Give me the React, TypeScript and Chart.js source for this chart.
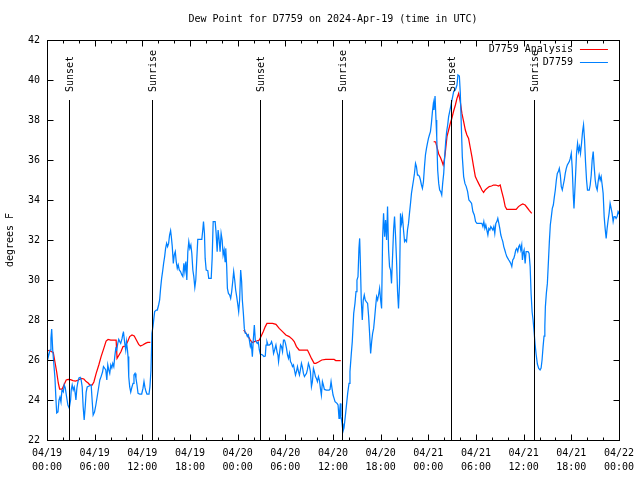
import React, { useEffect, useRef } from 'react';
import { Chart, registerables } from 'chart.js';

Chart.register(...registerables);

const FONT = '"DejaVu Sans Mono", "Liberation Mono", monospace';

const chartTitle = 'Dew Point for D7759 on 2024-Apr-19 (time in UTC)';
const yTitle = 'degrees F';
const analysisLabel = 'D7759 Analysis';
const obsLabel = 'D7759';

// x tick labels every 6 h (hours since 04/19 00:00 UTC)
const xTickDates = ['04/19', '04/19', '04/19', '04/19', '04/20', '04/20', '04/20', '04/20', '04/21', '04/21', '04/21', '04/21', '04/22'];
const xTickTimes = ['00:00', '06:00', '12:00', '18:00', '00:00', '06:00', '12:00', '18:00', '00:00', '06:00', '12:00', '18:00', '00:00'];

// sunrise / sunset markers (hours since 04/19 00:00 UTC)
const eventHours = [2.8, 13.21, 26.85, 37.18, 50.85, 61.3];
const eventLabels = ['Sunset', 'Sunrise', 'Sunset', 'Sunrise', 'Sunset', 'Sunrise'];

// observed dew point (hours, degF)
const dewHours = [
  0.00, 0.13, 0.38, 0.50, 0.59, 0.72, 0.88, 1.00, 1.13, 1.22,
  1.38, 1.51, 1.63, 1.76, 1.88, 2.05, 2.17, 2.30, 2.47, 2.63,
  2.80, 2.97, 3.05, 3.17, 3.30, 3.43, 3.55, 3.64, 3.76, 3.89,
  4.02, 4.18, 4.30, 4.43, 4.55, 4.68, 4.81, 4.93, 5.06, 5.31,
  5.56, 5.68, 5.81, 5.98, 6.15, 6.31, 6.49, 6.65, 6.81, 6.99,
  7.11, 7.24, 7.40, 7.53, 7.65, 7.78, 7.90, 8.03, 8.16, 8.28,
  8.41, 8.53, 8.66, 8.78, 8.91, 9.03, 9.16, 9.28, 9.45, 9.57,
  9.62, 9.79, 9.91, 10.00, 10.13, 10.20, 10.29, 10.41, 10.54, 10.66,
  10.83, 10.95, 11.08, 11.20, 11.33, 11.46, 11.67, 11.92, 12.08, 12.21,
  12.33, 12.46, 12.58, 12.84, 12.96, 13.09, 13.21, 13.34, 13.55, 13.76,
  13.89, 14.05, 14.18, 14.30, 14.43, 14.55, 14.68, 14.81, 14.93, 15.06,
  15.18, 15.31, 15.43, 15.56, 15.65, 15.77, 15.90, 16.02, 16.15, 16.27,
  16.40, 16.52, 16.65, 16.81, 16.98, 17.10, 17.23, 17.35, 17.48, 17.60,
  17.73, 17.85, 17.98, 18.11, 18.23, 18.36, 18.48, 18.61, 18.73, 18.86,
  18.98, 19.49, 19.61, 19.70, 19.82, 19.91, 20.04, 20.24, 20.36, 20.67,
  20.79, 20.92, 21.17, 21.29, 21.42, 21.54, 21.67, 21.79, 21.92, 22.05,
  22.17, 22.30, 22.42, 22.50, 22.62, 22.71, 22.84, 23.00, 23.12, 23.25,
  23.38, 23.50, 23.63, 23.75, 23.88, 24.00, 24.13, 24.25, 24.38, 24.50,
  24.59, 24.72, 24.84, 24.97, 25.09, 25.22, 25.35, 25.47, 25.60, 25.72,
  25.85, 25.97, 26.10, 26.22, 26.35, 26.47, 26.60, 26.73, 26.85, 27.14,
  27.31, 27.48, 27.57, 27.69, 27.82, 27.98, 28.14, 28.27, 28.39, 28.52,
  28.65, 28.82, 28.95, 29.07, 29.15, 29.27, 29.40, 29.52, 29.65, 29.77,
  29.90, 30.02, 30.15, 30.28, 30.40, 30.53, 30.65, 30.78, 30.90, 31.03,
  31.15, 31.28, 31.40, 31.53, 31.66, 31.78, 31.91, 32.03, 32.16, 32.28,
  32.41, 32.53, 32.66, 32.79, 32.91, 33.04, 33.16, 33.29, 33.41, 33.54,
  33.66, 33.79, 33.91, 34.04, 34.17, 34.29, 34.42, 34.54, 34.67, 34.79,
  34.92, 35.17, 35.51, 35.63, 35.76, 35.88, 36.01, 36.14, 36.26, 36.51,
  36.64, 36.76, 36.85, 36.93, 37.01, 37.14, 37.26, 37.39, 37.55, 37.68,
  37.85, 38.02, 38.14, 38.31, 38.43, 38.61, 38.77, 38.90, 39.02, 39.15,
  39.27, 39.36, 39.44, 39.56, 39.69, 39.81, 39.94, 40.06, 40.19, 40.36,
  40.49, 40.61, 40.74, 40.87, 40.99, 41.12, 41.24, 41.37, 41.49, 41.62,
  41.74, 41.87, 42.00, 42.12, 42.25, 42.37, 42.50, 42.62, 42.75, 42.87,
  43.00, 43.12, 43.25, 43.37, 43.50, 43.63, 43.75, 43.88, 44.00, 44.13,
  44.25, 44.38, 44.50, 44.63, 44.75, 44.88, 45.01, 45.13, 45.26, 45.38,
  45.51, 45.63, 45.76, 45.88, 46.01, 46.14, 46.26, 46.39, 46.51, 46.64,
  46.76, 46.89, 47.01, 47.14, 47.26, 47.39, 47.52, 47.64, 47.77, 47.89,
  48.02, 48.14, 48.27, 48.39, 48.52, 48.64, 48.72, 48.85, 48.97, 49.06,
  49.18, 49.31, 49.43, 49.56, 49.69, 49.81, 49.94, 50.06, 50.19, 50.31,
  50.44, 50.56, 50.69, 50.82, 50.94, 51.07, 51.19, 51.41, 51.61, 51.73,
  51.91, 52.03, 52.16, 52.28, 52.45, 52.61, 52.78, 52.95, 53.11, 53.29,
  53.45, 53.61, 53.79, 53.95, 54.12, 54.33, 54.54, 54.74, 54.87, 54.99,
  55.12, 55.24, 55.37, 55.50, 55.62, 55.75, 55.87, 56.00, 56.12, 56.25,
  56.37, 56.50, 56.63, 56.75, 56.88, 57.00, 57.13, 57.25, 57.38, 57.50,
  57.63, 57.75, 57.88, 58.01, 58.13, 58.26, 58.38, 58.51, 58.63, 58.76,
  58.88, 59.01, 59.13, 59.26, 59.39, 59.51, 59.64, 59.76, 59.85, 59.94,
  60.06, 60.19, 60.31, 60.56, 60.69, 60.82, 60.94, 61.07, 61.19, 61.32,
  61.44, 61.57, 61.73, 61.90, 62.07, 62.20, 62.32, 62.45, 62.57, 62.67,
  62.74, 62.86, 62.99, 63.11, 63.24, 63.36, 63.49, 63.61, 63.74, 63.86,
  63.99, 64.12, 64.24, 64.37, 64.49, 64.62, 64.74, 64.87, 64.99, 65.12,
  65.24, 65.37, 65.50, 65.62, 65.75, 65.87, 66.00, 66.12, 66.25, 66.34,
  66.41, 66.54, 66.66, 66.79, 66.91, 67.04, 67.16, 67.29, 67.42, 67.54,
  67.67, 67.79, 67.92, 68.04, 68.26, 68.38, 68.51, 68.63, 68.76, 68.88,
  69.01, 69.13, 69.26, 69.38, 69.51, 69.64, 69.76, 69.89, 70.01, 70.14,
  70.26, 70.39, 70.51, 70.64, 70.76, 70.89, 71.02, 71.14, 71.27, 71.39,
  71.52, 71.64, 71.77, 71.89, 72.00,
];
const dewValues = [
  26.67, 26.1, 26.5, 27.1, 27.55, 26.5, 25.7, 25.1, 24.0, 23.35,
  23.4, 24.0, 24.15, 23.9, 24.5, 24.4, 24.75, 24.6, 24.15, 23.75,
  23.6, 24.0, 24.5, 24.75, 24.5, 24.65, 24.33, 24.0, 24.6, 24.9,
  25.1, 25.13, 25.0, 24.65, 23.67, 23.0, 23.67, 24.4, 24.65, 24.7,
  24.75, 24.0, 23.25, 23.4, 23.75, 24.15, 24.6, 25.0, 25.17, 25.4,
  25.67, 25.6, 25.5, 25.0, 25.75, 25.5, 25.33, 25.75, 25.6, 25.83,
  25.67, 26.17, 26.58, 26.5, 26.83, 27.03, 26.92, 26.83, 27.08, 27.33,
  27.42, 26.83, 26.5, 26.92, 26.5, 26.17, 25.17, 24.65, 24.4, 24.6,
  24.83, 25.25, 25.33, 25.08, 24.75, 24.33, 24.3, 24.3, 24.58, 24.92,
  24.63, 24.42, 24.3, 24.3, 24.67, 25.5, 27.33, 27.67, 28.42, 28.5,
  28.5, 28.75, 29.0, 29.58, 30.08, 30.42, 30.83, 31.17, 31.58, 31.83,
  31.67, 31.83, 32.25, 32.47, 32.17, 31.67, 30.83, 31.25, 31.42, 30.92,
  30.58, 30.75, 30.5, 30.42, 30.25, 30.17, 30.83, 30.42, 30.92, 30.0,
  31.42, 31.92, 31.58, 31.75, 31.33, 30.5, 30.17, 29.63, 30.0, 31.08,
  32.03, 32.03, 32.5, 32.92, 32.33, 31.08, 30.5, 30.47, 30.08, 30.08,
  31.08, 32.92, 32.92, 32.33, 31.42, 32.5, 32.0, 31.42, 32.33, 32.0,
  31.25, 31.5, 30.92, 31.58, 30.67, 29.58, 29.33, 29.25, 29.08, 29.42,
  29.92, 30.42, 30.0, 29.5, 29.17, 28.83, 28.42, 29.0, 30.5, 29.92,
  29.0, 28.33, 27.58, 27.33, 27.33, 27.17, 27.25, 27.0, 26.67, 26.83,
  26.17, 27.0, 27.75, 27.0, 26.9, 26.83, 26.9, 26.5, 26.3, 26.25,
  26.17, 26.2, 26.75, 26.92, 26.75, 26.75, 26.8, 26.92, 26.75, 26.33,
  26.5, 26.75, 26.42, 26.25, 25.92, 26.33, 26.75, 26.67, 26.42, 27.0,
  27.0, 26.83, 26.58, 26.25, 26.08, 26.33, 25.92, 25.83, 25.67, 25.75,
  25.5, 25.25, 25.42, 25.67, 25.42, 25.25, 25.53, 25.83, 25.63, 25.33,
  25.17, 25.25, 25.33, 25.53, 25.83, 25.67, 25.42, 24.67, 24.92, 25.58,
  25.42, 25.17, 25.08, 24.92, 25.17, 25.0, 24.58, 24.25, 24.92, 24.75,
  24.53, 24.5, 24.5, 24.53, 24.92, 24.58, 24.25, 24.08, 23.92, 23.83,
  23.75, 23.08, 23.5, 23.83, 23.17, 22.83, 22.42, 22.6, 23.17, 23.67,
  24.33, 24.83, 25.42, 26.33, 26.92, 28.33, 28.83, 29.42, 30.0, 30.17,
  31.58, 32.08, 31.0, 29.0, 28.0, 29.0, 29.25, 29.0, 28.92, 28.83,
  28.17, 27.33, 26.33, 26.92, 27.33, 27.58, 28.08, 28.67, 29.17, 29.0,
  29.25, 29.58, 29.0, 28.58, 32.17, 33.33, 32.17, 33.0, 32.0, 33.67,
  31.5, 30.67, 30.5, 29.83, 31.17, 32.5, 33.17, 32.17, 31.0, 29.42,
  28.58, 29.83, 33.33, 32.83, 33.17, 32.5, 31.92, 32.0, 31.92, 32.5,
  32.83, 33.33, 33.83, 34.33, 34.67, 35.0, 35.33, 35.83, 35.67, 35.25,
  35.25, 35.17, 35.0, 34.75, 34.58, 34.92, 35.67, 36.25, 36.58, 36.83,
  37.08, 37.25, 37.42, 37.83, 38.42, 38.83, 38.5, 39.2, 38.0, 37.17,
  35.5, 34.83, 34.5, 34.42, 34.25, 34.83, 35.33, 36.17, 36.92, 37.42,
  37.75, 38.17, 38.42, 38.67, 38.92, 39.17, 39.42, 39.5, 39.75, 40.25,
  40.2, 39.33, 37.67, 36.17, 35.17, 34.83, 34.67, 34.42, 34.0, 33.92,
  33.83, 33.42, 33.25, 32.92, 32.83, 32.83, 32.83, 32.83, 32.67, 32.92,
  32.58, 32.75, 32.5, 32.25, 32.58, 32.5, 32.67, 32.58, 32.5, 32.67,
  32.33, 32.83, 32.92, 33.08, 32.83, 32.58, 32.25, 32.08, 31.92, 31.67,
  31.5, 31.33, 31.17, 31.08, 31.0, 30.92, 30.83, 30.67, 31.0, 31.08,
  31.25, 31.5, 31.58, 31.42, 31.67, 31.75, 31.5, 31.75, 31.0, 31.33,
  31.5, 30.83, 31.42, 31.42, 31.33, 30.67, 29.33, 28.4, 28.0, 27.4,
  26.8, 26.3, 25.8, 25.58, 25.5, 25.6, 26.0, 26.67, 27.2, 27.67,
  28.67, 29.33, 29.83, 30.83, 31.92, 32.75, 33.17, 33.58, 33.75, 34.13,
  34.5, 35.0, 35.33, 35.42, 35.58, 35.25, 34.67, 34.5, 34.75, 35.0,
  35.33, 35.58, 35.75, 35.83, 35.92, 36.08, 36.33, 35.58, 34.25, 33.58,
  34.17, 35.25, 36.33, 36.83, 36.42, 36.67, 36.33, 36.83, 37.42, 37.75,
  37.0, 35.92, 35.0, 34.5, 34.5, 34.75, 35.25, 36.0, 36.42, 35.67,
  35.0, 34.67, 34.5, 34.92, 35.25, 35.0, 35.17, 34.75, 34.33, 33.17,
  32.58, 32.08, 32.58, 33.0, 33.33, 33.83, 33.58, 33.33, 32.92, 33.17,
  33.17, 33.08, 33.17, 33.42, 33.33,
];

// analysis dew point (hours, degF); null = no analysis
const analysisHours = [
  0.00, 0.38, 0.79, 1.00, 1.22, 1.42, 1.59, 1.92, 2.13, 2.42,
  2.67, 2.97, 3.26, 3.60, 3.93, 4.35, 4.64, 4.93, 5.18, 5.40,
  5.68, 5.90, 6.19, 6.52, 6.81, 7.15, 7.44, 7.69, 8.03, 8.41,
  8.70, 8.82, 9.07, 9.32, 9.57, 9.87, 10.16, 10.41, 10.70, 10.98,
  11.25, 11.54, 11.76, 12.05, 12.38, 12.67, 13.01,
  19.0,
  24.76, 25.06, 25.35, 25.60, 25.81, 26.10, 26.39, 26.73, 26.94, 27.23,
  27.48, 27.69, 27.98, 28.39, 28.82, 29.23, 29.65, 30.07, 30.49, 30.90,
  31.12, 31.40, 31.74, 32.16, 32.79, 33.00, 33.29, 33.63, 33.84, 34.17,
  34.59, 35.09, 35.72, 36.14, 36.35, 36.98,
  43.0,
  48.68, 48.93, 49.12, 49.31, 49.56, 49.75, 49.87, 50.00, 50.12, 50.35,
  50.56, 50.78, 50.94, 51.19, 51.41, 51.61, 51.82, 52.03, 52.23, 52.45,
  52.66, 52.86, 53.07, 53.29, 53.49, 53.70, 53.92, 54.12, 54.33, 54.54,
  54.74, 54.96, 55.17, 55.37, 55.67, 55.96, 56.21, 56.50, 56.84, 57.05,
  57.25, 57.47, 57.68, 57.88, 58.34, 58.72, 59.06, 59.35, 59.64, 59.89,
  60.19, 60.48, 60.73, 61.02,
];
const analysisValues = [
  26.5, 26.45, 26.38, 25.9, 25.4, 24.85, 24.55, 24.55, 24.75, 25.0,
  25.03, 25.02, 24.97, 24.95, 25.0, 25.08, 25.05, 24.92, 24.85, 24.75,
  24.75, 24.9, 25.33, 25.75, 26.17, 26.58, 26.95, 27.03, 27.0, 27.0,
  27.0, 26.08, 26.25, 26.42, 26.67, 26.7, 26.92, 27.17, 27.25, 27.2,
  27.0, 26.78, 26.7, 26.75, 26.83, 26.88, 26.88,
  null,
  27.5, 27.33, 27.17, 27.0, 26.87, 26.92, 26.95, 27.0, 27.17, 27.42,
  27.67, 27.83, 27.83, 27.83, 27.78, 27.58, 27.42, 27.25, 27.17, 27.03,
  26.92, 26.67, 26.5, 26.5, 26.5, 26.33, 26.08, 25.83, 25.83, 25.9,
  26.0, 26.03, 26.03, 26.03, 25.97, 25.97,
  null,
  36.92, 36.9, 36.6, 36.3, 36.1, 35.9, 35.75, 35.95, 36.3, 37.17,
  37.5, 37.85, 38.05, 38.45, 38.75, 39.08, 39.33, 38.9, 38.33, 37.92,
  37.5, 37.25, 37.08, 36.6, 36.17, 35.67, 35.17, 35.0, 34.83, 34.67,
  34.5, 34.38, 34.5, 34.58, 34.67, 34.7, 34.75, 34.75, 34.7, 34.75,
  34.42, 34.08, 33.67, 33.53, 33.53, 33.53, 33.53, 33.67, 33.75, 33.8,
  33.75, 33.6, 33.47, 33.33,
];

const decorPlugin = {
  id: 'gnuplotDecor',
  afterDatasetsDraw(chart: any) {
    const { ctx, chartArea: a, scales } = chart;
    const xs = scales.x;
    const ys = scales.y;
    ctx.save();
    ctx.strokeStyle = '#000';
    ctx.fillStyle = '#000';
    ctx.lineWidth = 1;
    ctx.font = `10px ${FONT}`;

    // sunrise / sunset lines
    eventHours.forEach((h, i) => {
      const px = Math.round(xs.getPixelForValue(h)) + 0.5;
      ctx.beginPath();
      ctx.moveTo(px, a.top + 60);
      ctx.lineTo(px, a.bottom);
      ctx.stroke();
      ctx.save();
      ctx.translate(px + 1, a.top + 52);
      ctx.rotate(-Math.PI / 2);
      ctx.textAlign = 'left';
      ctx.textBaseline = 'middle';
      ctx.fillText(eventLabels[i], 0, 0);
      ctx.restore();
    });

    // frame
    const L = Math.round(a.left) + 0.5;
    const R = Math.round(a.right) + 0.5;
    const T = Math.round(a.top) + 0.5;
    const B = Math.round(a.bottom) + 0.5;
    ctx.strokeRect(L, T, R - L, B - T);

    // inward ticks
    ctx.beginPath();
    xs.ticks.forEach((t: any) => {
      const px = Math.round(xs.getPixelForValue(t.value)) + 0.5;
      const len = t.value % 6 === 0 ? 6 : 3;
      ctx.moveTo(px, B);
      ctx.lineTo(px, B - len);
      ctx.moveTo(px, T);
      ctx.lineTo(px, T + len);
    });
    ys.ticks.forEach((t: any) => {
      const py = Math.round(ys.getPixelForValue(t.value)) + 0.5;
      ctx.moveTo(L, py);
      ctx.lineTo(L + 6, py);
      ctx.moveTo(R, py);
      ctx.lineTo(R - 6, py);
    });
    ctx.stroke();

    // legend (top right, inside)
    chart.data.datasets.forEach((ds: any, i: number) => {
      const y = Math.round(a.top + 9 + i * 13) + 0.5;
      ctx.textAlign = 'right';
      ctx.textBaseline = 'middle';
      ctx.fillStyle = '#000';
      ctx.fillText(ds.label, a.right - 46, y);
      ctx.strokeStyle = ds.borderColor;
      ctx.beginPath();
      ctx.moveTo(a.right - 39, y);
      ctx.lineTo(a.right - 11, y);
      ctx.stroke();
    });

    // title
    ctx.fillStyle = '#000';
    ctx.textAlign = 'center';
    ctx.textBaseline = 'middle';
    ctx.fillText(chartTitle, (a.left + a.right) / 2, 19);
    ctx.restore();
  },
};

export default function App() {
  const ref = useRef<HTMLCanvasElement>(null);

  useEffect(() => {
    if (!ref.current) return;
    const tickFont = { family: FONT, size: 10, lineHeight: 1.4 };
    const chart = new Chart(ref.current, {
      type: 'line',
      data: {
        datasets: [
          {
            label: analysisLabel,
            data: analysisHours.map((h, i) => ({ x: h, y: analysisValues[i] })),
            borderColor: '#ff0000',
            borderWidth: 1.25,
            pointRadius: 0,
            tension: 0,
            spanGaps: false,
            order: 1,
          },
          {
            label: obsLabel,
            data: dewHours.map((h, i) => ({ x: h, y: dewValues[i] })),
            borderColor: '#0080ff',
            borderWidth: 1.25,
            pointRadius: 0,
            tension: 0,
            order: 0,
          },
        ],
      },
      options: {
        animation: false,
        responsive: true,
        maintainAspectRatio: false,
        layout: { padding: { top: 40, right: 19, left: 0, bottom: 0 } },
        plugins: {
          legend: { display: false },
          tooltip: { enabled: false },
          title: { display: false },
        },
        scales: {
          x: {
            type: 'linear',
            min: 0,
            max: 72,
            afterFit: (s: any) => { s.height = 40; },
            grid: { display: false, drawTicks: false },
            border: { display: false },
            ticks: {
              stepSize: 2,
              autoSkip: false,
              maxRotation: 0,
              minRotation: 0,
              padding: 6,
              color: '#000',
              font: tickFont,
              callback: (v: any) => {
                const n = Number(v);
                if (n % 6 !== 0) return '';
                const idx = n / 6;
                return [xTickDates[idx], xTickTimes[idx]];
              },
            },
          },
          y: {
            min: 22,
            max: 42,
            afterFit: (s: any) => { s.width = 47; },
            grid: { display: false, drawTicks: false },
            border: { display: false },
            ticks: { stepSize: 2, padding: 7, color: '#000', font: { family: FONT, size: 10 } },
            title: { display: true, text: yTitle, color: '#000', font: { family: FONT, size: 10 } },
          },
        },
      },
      plugins: [decorPlugin],
    } as any);
    return () => chart.destroy();
  }, []);

  return (
    <div style={{ position: 'fixed', left: 0, top: 0, width: 640, height: 480, background: '#fff' }}>
      <canvas ref={ref} />
    </div>
  );
}
